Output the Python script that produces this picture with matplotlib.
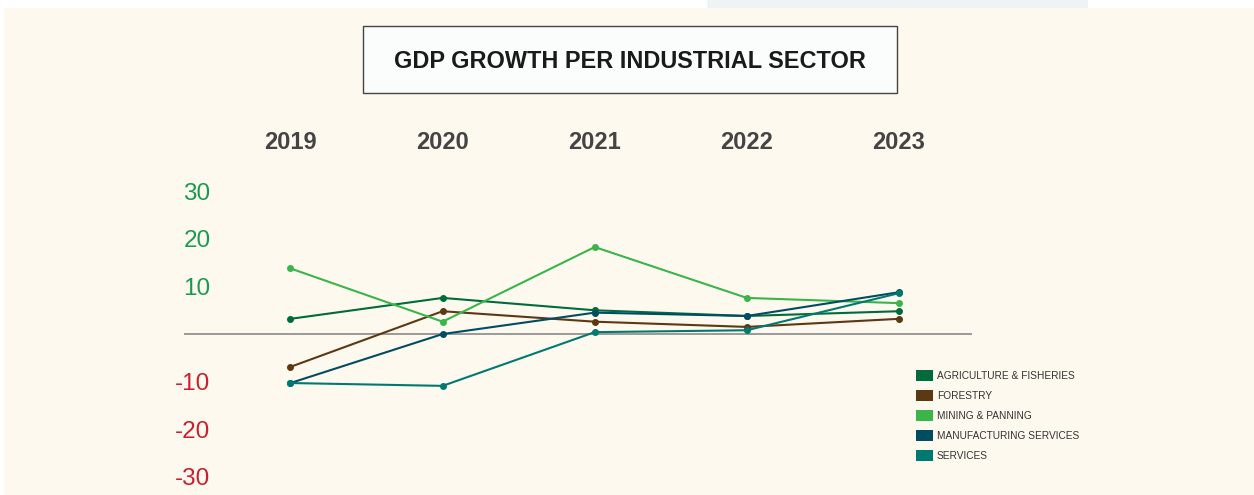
import matplotlib
matplotlib.use("Agg")
import matplotlib.pyplot as plt
from matplotlib.patches import Rectangle, Patch

plt.rcParams['font.family'] = ['Liberation Sans', 'DejaVu Sans']

# data (growth %)
years = ['2019', '2020', '2021', '2022', '2023']
sectors = ['AGRICULTURE & FISHERIES', 'FORESTRY', 'MINING & PANNING',
           'MANUFACTURING SERVICES', 'SERVICES']
agriculture = [3.2, 7.6, 5.0, 3.8, 4.8]
forestry = [-6.9, 4.8, 2.6, 1.5, 3.2]
mining = [13.8, 2.6, 18.3, 7.6, 6.5]
manufacturing = [-10.3, 0.0, 4.5, 3.8, 8.8]
services = [-10.3, -10.9, 0.4, 0.8, 8.6]
colors = ['#006b3c', '#5c3813', '#39b54a', '#004d62', '#007a70']
yticks = [-30, -20, -10, 10, 20, 30]

W, H = 1254, 495
fig = plt.figure(figsize=(W / 100, H / 100), dpi=100, facecolor='white')

# page background
fig.patches.append(Rectangle((4 / W, 0), 1, (H - 8) / H, transform=fig.transFigure,
                             facecolor='#fdf9ef', edgecolor='none', zorder=-10))
fig.patches.append(Rectangle((707 / W, (H - 8) / H), (1088 - 707) / W, 8 / H,
                             transform=fig.transFigure, facecolor='#eef3f3',
                             edgecolor='none', zorder=-10))

# title box
fig.patches.append(Rectangle((363 / W, (H - 93) / H), (897 - 363) / W, 67 / H,
                             transform=fig.transFigure, facecolor='#fbfcfc',
                             edgecolor='#444444', linewidth=1.0))
fig.text(630 / W, (H - 61) / H, 'GDP GROWTH PER INDUSTRIAL SECTOR',
         ha='center', va='center', fontsize=16.9, fontweight='bold', color='#1a1a1a')

ax = fig.add_axes([184 / W, 5 / H, 788 / W, 310 / H])
ax.set_facecolor('none')
ax.set_xlim(-0.7, 4.48)
ax.set_ylim(-32.8, 32.4)

x = list(range(len(years)))
series = [agriculture, forestry, mining, manufacturing, services]
for vals, c in zip(series, colors):
    ax.plot(x, vals, color=c, lw=1.5, marker='o', ms=4, zorder=3)

ax.axhline(0, color='#8a8a8a', lw=1.2, zorder=1)

for s in ax.spines.values():
    s.set_visible(False)

ax.xaxis.tick_top()
ax.set_xticks(x)
ax.set_xticklabels(years, fontsize=17, fontweight='bold', color='#444444')
ax.tick_params(axis='x', length=0, pad=18.5)

ax.set_yticks(yticks)
ax.set_yticklabels([str(v) for v in yticks], fontsize=17.5)
ax.tick_params(axis='y', length=0, pad=-19)
for lab, v in zip(ax.get_yticklabels(), yticks):
    lab.set_color('#1a9a50' if v > 0 else '#c8202f')

handles = [Patch(facecolor=c, edgecolor='none') for c in colors]
fig.legend(handles, sectors, loc='upper left',
           bbox_to_anchor=(907 / W, (H - 361) / H), frameon=False,
           fontsize=7.3, handlelength=1.65, handleheight=1.3,
           handletextpad=0.4, labelspacing=0.88, labelcolor='#333333')

fig.savefig('out.png', dpi=100, facecolor=fig.get_facecolor())
